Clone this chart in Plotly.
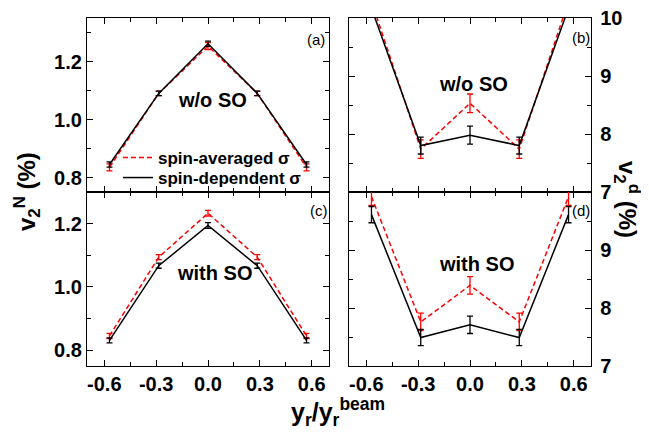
import plotly.graph_objects as go

# ---- data ----
x_vals = [-0.57, -0.285, 0.0, 0.285, 0.57]

# panel (a): nucleon v2, w/o SO
a_avg = [0.835, 1.090, 1.253, 1.090, 0.835]
a_avg_err = [0.012, 0.008, 0.012, 0.008, 0.012]
a_dep = [0.845, 1.090, 1.261, 1.090, 0.845]
a_dep_err = [0.009, 0.008, 0.009, 0.008, 0.009]

# panel (b): deuteron v2, w/o SO
b_avg = [10.29, 7.74, 8.53, 7.74, 10.29]
b_avg_err = [0.16, 0.16, 0.16, 0.16, 0.16]
b_dep = [10.17, 7.80, 7.98, 7.80, 10.17]
b_dep_err = [0.145, 0.145, 0.155, 0.145, 0.145]

# panel (c): nucleon v2, with SO
c_avg = [0.845, 1.094, 1.233, 1.094, 0.845]
c_avg_err = [0.008, 0.008, 0.009, 0.008, 0.008]
c_dep = [0.831, 1.067, 1.194, 1.067, 0.831]
c_dep_err = [0.008, 0.008, 0.009, 0.008, 0.008]

# panel (d): deuteron v2, with SO
d_avg = [9.92, 7.76, 8.39, 7.76, 9.92]
d_avg_err = [0.15, 0.15, 0.15, 0.15, 0.15]
d_dep = [9.61, 7.49, 7.71, 7.49, 9.61]
d_dep_err = [0.14, 0.14, 0.15, 0.14, 0.14]

x_ticks = [-0.6, -0.3, 0.0, 0.3, 0.6]
x_ticktext = ["-0.6", "-0.3", "0.0", "0.3", "0.6"]
yN_ticks = [0.8, 1.0, 1.2]
yN_ticktext = ["0.8", "1.0", "1.2"]
yd_ticks = [7, 8, 9, 10]
yd_ticktext_b = ["7", "8", "9", "10"]
yd_ticktext_d = ["7", "8", "9", ""]

legend_names = ["spin-averaged σ", "spin-dependent σ"]
panel_labels = ["(a)", "(b)", "(c)", "(d)"]

# the page body adds an 8px offset; size the figure to the remaining window
OFF = 8
W, H = 649 - OFF, 433 - OFF
def fx(px):
    return (px - OFF) / W
def fy(py):
    return 1 - (py - OFF) / H

FONT = "Liberation Sans, Arial, Helvetica, sans-serif"
RED = "#ff0000"
BLACK = "#000000"

fig = go.Figure()

panels = [
    ("x", "y", a_avg, a_avg_err, a_dep, a_dep_err, True),
    ("x2", "y2", b_avg, b_avg_err, b_dep, b_dep_err, False),
    ("x3", "y3", c_avg, c_avg_err, c_dep, c_dep_err, False),
    ("x4", "y4", d_avg, d_avg_err, d_dep, d_dep_err, False),
]

for xa, ya, avg, avg_err, dep, dep_err, show in panels:
    fig.add_trace(go.Scatter(
        x=x_vals, y=avg, mode="lines", xaxis=xa, yaxis=ya,
        name=legend_names[0], showlegend=show, legend="legend",
        line=dict(color=RED, width=1.5, dash="5px,3px"),
        error_y=dict(type="data", array=avg_err, color=RED, thickness=1.3, width=3),
    ))
    fig.add_trace(go.Scatter(
        x=x_vals, y=dep, mode="lines", xaxis=xa, yaxis=ya,
        name=legend_names[1], showlegend=show, legend="legend2",
        line=dict(color=BLACK, width=1.5),
        error_y=dict(type="data", array=dep_err, color=BLACK, thickness=1.3, width=3),
    ))

xl = [fx(87), fx(329)]
xr = [fx(349), fx(591)]
yt = [fy(192), fy(18)]
yb = [fy(366), fy(192)]

tickfont = dict(family=FONT, size=20, color="black", weight="bold")

def xaxis(domain, anchor, labels):
    return dict(
        domain=domain, anchor=anchor, range=[-0.7, 0.7], automargin=False,
        tickvals=x_ticks, ticktext=x_ticktext, showticklabels=labels,
        ticklabeloverflow="allow",
        ticks="inside", ticklen=6, tickwidth=1.3, tickcolor="black",
        minor=dict(ticks="inside", ticklen=3.5, tickwidth=1.2, tickcolor="black", dtick=0.15, tick0=0),
        showline=True, linecolor="black", linewidth=1.3, mirror="allticks",
        showgrid=False, zeroline=False, tickfont=tickfont,
    )

def yaxis(domain, anchor, rng, tv, tt, minor_dtick, minor_tick0, side, standoff):
    return dict(
        domain=domain, anchor=anchor, range=rng, side=side, automargin=False,
        tickvals=tv, ticktext=tt, ticklabelstandoff=standoff,
        ticklabeloverflow="allow",
        ticks="inside", ticklen=6, tickwidth=1.3, tickcolor="black",
        minor=dict(ticks="inside", ticklen=3.5, tickwidth=1.2, tickcolor="black",
                   dtick=minor_dtick, tick0=minor_tick0),
        showline=True, linecolor="black", linewidth=1.3, mirror="allticks",
        showgrid=False, zeroline=False, tickfont=tickfont,
    )

legfont = dict(family=FONT, size=17, color="black", weight="bold")

fig.update_layout(
    width=W, height=H,
    margin=dict(l=0, r=0, t=0, b=0, pad=0, autoexpand=False),
    paper_bgcolor="white", plot_bgcolor="white",
    font=dict(family=FONT, color="black"),
    xaxis=xaxis(xl, "y", False),
    xaxis2=xaxis(xr, "y2", False),
    xaxis3=xaxis(xl, "y3", True),
    xaxis4=xaxis(xr, "y4", True),
    yaxis=yaxis(yt, "x", [0.75, 1.35], yN_ticks, yN_ticktext, 0.1, 0.7, "left", 0),
    yaxis2=yaxis(yt, "x2", [7, 10], yd_ticks, yd_ticktext_b, 0.5, 7, "right", 4),
    yaxis3=yaxis(yb, "x3", [0.75, 1.30], yN_ticks, yN_ticktext, 0.1, 0.7, "left", 0),
    yaxis4=yaxis(yb, "x4", [7, 10], yd_ticks, yd_ticktext_d, 0.5, 7, "right", 4),
    showlegend=True,
    legend=dict(x=fx(118), y=fy(158), xanchor="left", yanchor="middle",
                bgcolor="rgba(0,0,0,0)", borderwidth=0, font=legfont, itemwidth=30),
    legend2=dict(x=fx(118), y=fy(178), xanchor="left", yanchor="middle",
                 bgcolor="rgba(0,0,0,0)", borderwidth=0, font=legfont, itemwidth=30),
)

ann = []
# panel labels
for lab, (px, py) in zip(panel_labels, [(316, 39), (581, 38), (319, 210), (581, 210)]):
    ann.append(dict(text=lab, x=fx(px), y=fy(py), xref="paper", yref="paper",
                    xanchor="center", yanchor="middle",
                    showarrow=False, font=dict(family=FONT, size=15, color="black")))
# in-panel texts
for txt, (px, py) in zip(["w/o SO", "w/o SO", "with SO", "with SO"],
                         [(212, 100), (473, 84), (214, 273), (476, 264)]):
    ann.append(dict(text=txt, x=fx(px), y=fy(py), xref="paper", yref="paper",
                    xanchor="center", yanchor="middle",
                    showarrow=False, font=dict(family=FONT, size=20, color="black", weight="bold")))
# axis titles
ann.append(dict(text="v<sub>2</sub><sup>N</sup> (%)", x=fx(27), y=fy(192),
                xref="paper", yref="paper", xanchor="center", yanchor="middle",
                showarrow=False, textangle=-90,
                font=dict(family=FONT, size=24, color="black", weight="bold")))
ann.append(dict(text="v<sub>2</sub><sup>d</sup> (%)", x=fx(627), y=fy(199),
                xref="paper", yref="paper", xanchor="center", yanchor="middle",
                showarrow=False, textangle=90,
                font=dict(family=FONT, size=24, color="black", weight="bold")))
ann.append(dict(text="y<sub>r</sub>/y<sub>r</sub><sup>beam</sup>", x=fx(338), y=fy(412),
                xref="paper", yref="paper", xanchor="center", yanchor="middle",
                showarrow=False,
                font=dict(family=FONT, size=25, color="black", weight="bold")))
fig.update_layout(annotations=ann)

fig.write_html("out.html")
